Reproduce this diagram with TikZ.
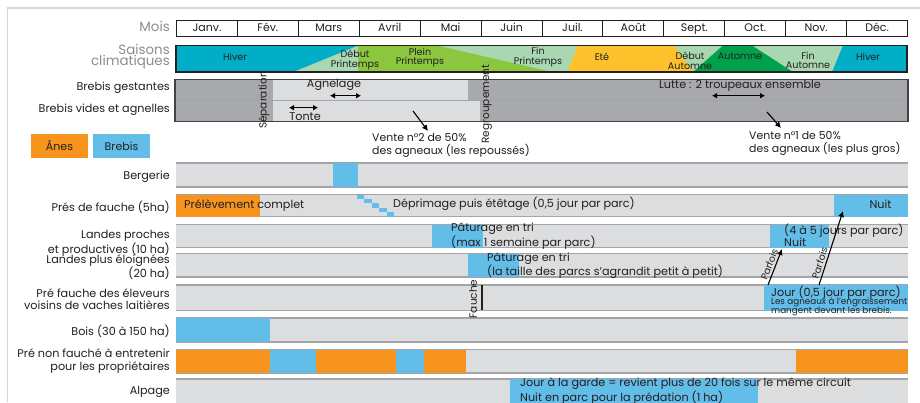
\documentclass[tikz,border=0pt]{standalone}
\usepackage{fontspec}
\setmainfont{Poppins}
\usetikzlibrary{arrows.meta}

\definecolor{ink}{HTML}{231F20}
\definecolor{labgray}{HTML}{8A8C8E}
\definecolor{framegray}{HTML}{D4D5D6}
\definecolor{bargray}{HTML}{DCDDDE}
\definecolor{barline}{HTML}{A2A4A7}
\definecolor{flockgray}{HTML}{A7A9AC}
\definecolor{sheepblue}{HTML}{62BDE9}
\definecolor{donkeyorange}{HTML}{F7941D}
\definecolor{wintercol}{HTML}{00AEC8}
\definecolor{palegreen}{HTML}{A9D7B1}
\definecolor{springgreen}{HTML}{8CC63F}
\definecolor{summeryellow}{HTML}{FCC12B}
\definecolor{autumngreen}{HTML}{00A14B}

\tikzset{
  rowlabel/.style={anchor=east, align=right, font=\fontsize{11.2}{12.6}\selectfont},
  headlabel/.style={anchor=east, align=right, text=labgray, font=\fontsize{13.4}{10.8}\selectfont},
  monthbox/.style={draw=ink, line width=1pt, anchor=north west, text height=8pt, text depth=2.5pt,
    minimum width=60.92pt, minimum height=16.5pt, font=\fontsize{11}{12}\selectfont},
  seasontext/.style={align=center, font=\fontsize{9.6}{9.6}\selectfont},
  bartext/.style={anchor=west, align=left, font=\fontsize{11.2}{10.6}\selectfont},
  notetext/.style={anchor=north west, align=left, font=\fontsize{8.8}{9.6}\selectfont},
  legendbox/.style={minimum width=57pt, minimum height=24pt, font=\fontsize{11}{12}\selectfont},
  vtext/.style={rotate=90, font=\fontsize{10.5}{12}\selectfont},
  dblarrow/.style={{Latex[length=5pt,width=6pt]}-{Latex[length=5pt,width=6pt]}, line width=1.3pt},
  salearrow/.style={-{Latex[length=6pt,width=6pt]}, line width=1.1pt},
}

\begin{document}
\begin{tikzpicture}[x=1pt, y=-1pt, inner sep=0pt, text=ink, font=\fontsize{11.2}{12}\selectfont]
\useasboundingbox (0,0) rectangle (920,402);
\fill[white] (0,0) rectangle (920,402);
\draw[framegray, line width=1.5pt] (7.5,402) -- (7.5,8) -- (920,8);

% mois
\node[headlabel] (lmois) at (170,26) {Mois};
\foreach \m [count=\i from 0] in {Janv.,Fév.,Mars,Avril,Mai,Juin,Juil.,Août,Sept.,Oct.,Nov.,Déc.}
  \node[monthbox] (month\i) at ({176+60.92*\i},19.5) {\m};

% saisons
\node[headlabel] (lsaisons) at (170,57) {Saisons\\climatiques};
\fill[palegreen] (176,45.5) rectangle (907,72);
\fill[wintercol] (176,45.5) -- (358,45.5) -- (293,72) -- (176,72) -- cycle;
\fill[springgreen] (358,45.5) -- (437,45.5) -- (552,72) -- (358,72) -- cycle;
\fill[summeryellow] (578,45.5) -- (674,45.5) -- (693,72) -- (567,72) -- cycle;
\fill[autumngreen] (693,72) -- (723,45.5) -- (752,45.5) -- (793,72) -- cycle;
\fill[wintercol] (843,45.5) -- (907,45.5) -- (907,72) -- (832,72) -- cycle;
\draw[ink, line width=1.2pt] (176,45.5) rectangle (907,72);
\node[seasontext] (hiver1) at (235,57) {Hiver};
\node[seasontext] (debprin) at (355,60) {Début\\Printemps};
\node[seasontext] (pleinprin) at (420,57.5) {Plein\\Printemps};
\node[seasontext] (finprin) at (538,57) {Fin\\Printemps};
\node[seasontext] (ete) at (602,57) {Eté};
\node[seasontext] (debaut) at (690,60.5) {Début\\Automne};
\node[seasontext] (automne) at (740,56.5) {Automne};
\node[seasontext] (finaut) at (808,60.5) {Fin\\Automne};
\node[seasontext] (hiver2) at (868,57) {Hiver};

% brebis
\node[rowlabel] (lgest) at (170,87.5) {Brebis gestantes};
\node[rowlabel] (lvides) at (170,110) {Brebis vides et agnelles};
\fill[flockgray] (175,79.5) rectangle (908,121.5);
\fill[bargray] (273,80) rectangle (468,100);
\fill[bargray] (273,100) rectangle (480,121);
\draw[barline, line width=0.8pt] (175,100) -- (908,100);
\draw[ink!85, line width=1.5pt] (175,79.5) rectangle (908,121.5);
\node[vtext] (separation) at (264,100) {Séparation};
\node[vtext] (regroup) at (487,104) {Regroupement};
\node (agnelage) at (334,85) {Agnelage};
\coordinate (agA) at (330,95.7);
\coordinate (agB) at (361,95.7);
\draw[dblarrow] (agA) -- (agB);
\node (tonte) at (305,117) {Tonte};
\coordinate (toA) at (289,107.7);
\coordinate (toB) at (318,107.7);
\draw[dblarrow] (toA) -- (toB);
\node (lutte) at (740,86) {Lutte : 2 troupeaux ensemble};
\coordinate (luA) at (712,95.7);
\coordinate (luB) at (765,95.7);
\draw[dblarrow] (luA) -- (luB);
\coordinate (v2s) at (413,111);
\coordinate (v2e) at (428,131);
\draw[salearrow] (v2s) -- (v2e);
\node[bartext, font=\fontsize{10.9}{12.7}\selectfont] (vente2) at (372,145.5) {Vente n°2 de 50\%\\des agneaux (les repoussés)};
\coordinate (v1s) at (767,112);
\coordinate (v1e) at (781,128);
\draw[salearrow] (v1s) -- (v1e);
\node[bartext, font=\fontsize{10.9}{12.7}\selectfont] (vente1) at (749,143.5) {Vente n°1 de 50\%\\des agneaux (les plus gros)};

% legende
\node[legendbox, fill=donkeyorange] (anes) at (59.5,146) {Ânes};
\node[legendbox, fill=sheepblue] (brebis) at (121.5,146) {Brebis};

% parcours
\foreach \ya/\yb in {163/187, 194.5/216.5, 224.5/247.5, 253.5/277, 285/310.5, 318/342, 349.5/373, 379/410} {
  \fill[bargray] (176,\ya) rectangle (908,\yb);
  \draw[barline, line width=1.3pt] (176,\ya) -- (908,\ya) (176,\yb) -- (908,\yb);
}
\fill[sheepblue] (333,163) rectangle (358,187);
\fill[donkeyorange] (176,194.5) rectangle (260,216.5);
\foreach \i in {0,...,4}
  \fill[sheepblue] ({357+7.4*\i},{194.5+4.4*\i}) rectangle ++(7.4,4.4);
\fill[sheepblue] (834,194.5) rectangle (908,216.5);
\fill[sheepblue] (432,224.5) rectangle (483,247.5);
\fill[sheepblue] (770,224.5) rectangle (829,247.5);
\fill[sheepblue] (468,253.5) rectangle (519,277);
\fill[sheepblue] (764,285) rectangle (908,310.5);
\fill[sheepblue] (176,318) rectangle (270,342);
\foreach \xa/\xb/\c in {176/270/donkeyorange, 270/316/sheepblue, 316/396/donkeyorange,
    396/424/sheepblue, 424/466/donkeyorange, 796/908/donkeyorange}
  \fill[\c] (\xa,349.5) rectangle (\xb,373);
\fill[sheepblue] (510,379) rectangle (758,410);

\node[rowlabel] (lberg) at (170,176.5) {Bergerie};
\node[rowlabel] (lpres) at (170,207.5) {Prés de fauche (5ha)};
\node[rowlabel, font=\fontsize{11.2}{13}\selectfont] (lproches) at (170,243.3) {Landes proches\\et productives (10 ha)};
\node[rowlabel] (leloig) at (170,267) {Landes plus éloignées\\(20 ha)};
\node[rowlabel] (lvoisins) at (170,299) {Pré fauche des éleveurs\\voisins de vaches laitières};
\node[rowlabel] (lbois) at (170,331) {Bois (30 à 150 ha)};
\node[rowlabel] (lnonf) at (170,361) {Pré non fauché à entretenir\\pour les propriétaires};
\node[rowlabel] (lalpage) at (170,391.7) {Alpage};

\node[bartext] (prelev) at (184,205.5) {Prélèvement complet};
\node[bartext] (deprim) at (393,204) {Déprimage puis étêtage (0,5 jour par parc)};
\node (nuit1) at (880.5,204) {Nuit};
\node[bartext] (patur1) at (451,236) {Pâturage en tri\\(max 1 semaine par parc)};
\node[bartext] (nuit2) at (784,235.5) {(4 à 5 jours par parc)\\Nuit};
\node[bartext] (patur2) at (487,266) {Pâturage en tri\\(la taille des parcs s’agrandit petit à petit)};
\node[bartext] (jour) at (771,292.3) {Jour (0,5 jour par parc)};
\node[notetext] (agneaux) at (771,297) {Les agneaux à l'engraissement\\mangent devant les brebis.};
\node[bartext] (garde) at (520,391.3) {Jour à la garde = revient plus de 20 fois sur le même circuit\\Nuit en parc pour la prédation (1 ha)};

\node[vtext] (fauche) at (473,299) {Fauche};
\coordinate (fauA) at (482,285);
\coordinate (fauB) at (482,310);
\draw[ink, line width=1.2pt] (fauA) -- (fauB);

\coordinate (p1s) at (768,285);
\coordinate (p1e) at (782,249);
\coordinate (p2s) at (819,285);
\coordinate (p2e) at (843,211);
\draw[salearrow] (p1s) -- node[sloped, above=2pt, font=\fontsize{9.5}{10}\selectfont] (parfois1) {Parfois} (p1e);
\draw[salearrow] (p2s) -- node[sloped, above=2pt, pos=0.27, font=\fontsize{9.5}{10}\selectfont] (parfois2) {Parfois} (p2e);
\end{tikzpicture}
\end{document}
